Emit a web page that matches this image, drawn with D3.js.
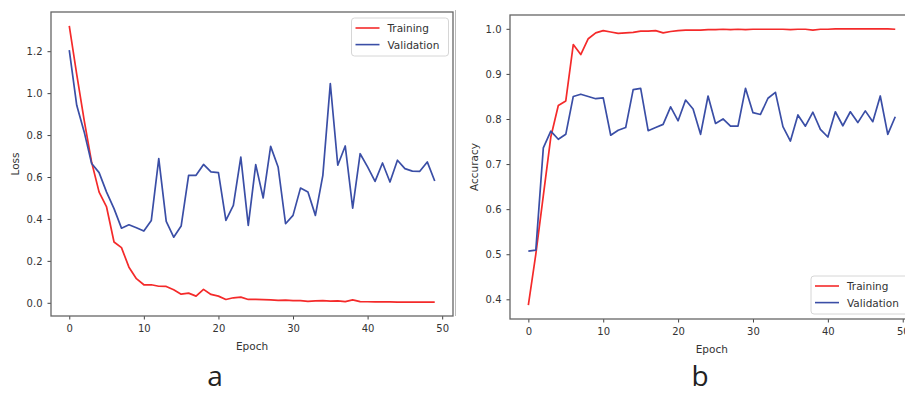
<!DOCTYPE html>
<html lang="en">
<head>
<meta charset="UTF-8" />
<title>Loss and accuracy</title>
<script src="https://d3js.org/d3.v7.min.js"></script>
<style>
    body { margin: 0; background: #fff; }
    .tick text { font-family: "DejaVu Sans", sans-serif; font-size: 10px; fill: #333; }
    .tick line { stroke: #444; }
    .lbl { font-family: "DejaVu Sans", sans-serif; font-size: 10.5px; fill: #333; }
    .panel { font-family: "Open Sans", "Noto Sans", sans-serif; font-size: 28px; fill: #222; }
</style>
</head>
<body>
<script>
    // data
    var epochs = d3.range(0, 50);
    var lossTrain = [1.321, 1.09, 0.87, 0.67, 0.528, 0.457, 0.290, 0.263, 0.170, 0.115,
        0.086, 0.086, 0.079, 0.078, 0.062, 0.041, 0.046, 0.032, 0.064, 0.040,
        0.032, 0.016, 0.024, 0.027, 0.016, 0.016, 0.015, 0.014, 0.012, 0.013,
        0.010, 0.010, 0.007, 0.009, 0.010, 0.008, 0.009, 0.006, 0.014, 0.006,
        0.005, 0.004, 0.004, 0.004, 0.003, 0.003, 0.003, 0.003, 0.003, 0.003];
    var lossVal = [1.205, 0.942, 0.815, 0.664, 0.621, 0.528, 0.449, 0.356, 0.372, 0.358,
        0.342, 0.393, 0.688, 0.388, 0.313, 0.366, 0.608, 0.608, 0.660, 0.624,
        0.621, 0.393, 0.465, 0.695, 0.369, 0.659, 0.500, 0.746, 0.648, 0.377,
        0.417, 0.547, 0.528, 0.417, 0.608, 1.046, 0.656, 0.748, 0.452, 0.711,
        0.648, 0.579, 0.667, 0.576, 0.680, 0.640, 0.628, 0.627, 0.672, 0.581];
    var accTrain = [0.387, 0.50, 0.63, 0.76, 0.830, 0.840, 0.965, 0.943, 0.978, 0.991,
        0.996, 0.993, 0.990, 0.991, 0.992, 0.995, 0.995, 0.996, 0.991, 0.994,
        0.996, 0.997, 0.997, 0.997, 0.998, 0.998, 0.999, 0.998, 0.999, 0.998,
        0.999, 0.999, 0.999, 0.999, 0.999, 0.998, 0.999, 0.999, 0.997, 0.999,
        0.999, 1.000, 1.000, 1.000, 1.000, 1.000, 1.000, 1.000, 1.000, 0.999];
    var accVal = [0.507, 0.509, 0.736, 0.773, 0.755, 0.766, 0.850, 0.855, 0.850, 0.845,
        0.847, 0.764, 0.775, 0.781, 0.865, 0.868, 0.774, 0.781, 0.788, 0.827,
        0.796, 0.842, 0.822, 0.766, 0.851, 0.790, 0.800, 0.784, 0.784, 0.868,
        0.814, 0.810, 0.846, 0.859, 0.783, 0.751, 0.809, 0.784, 0.815, 0.777,
        0.760, 0.816, 0.785, 0.816, 0.792, 0.818, 0.794, 0.851, 0.766, 0.805];
    var xTicks = [0, 10, 20, 30, 40, 50];
    var lossTicks = [0.0, 0.2, 0.4, 0.6, 0.8, 1.0, 1.2];
    var accTicks = [0.4, 0.5, 0.6, 0.7, 0.8, 0.9, 1.0];
    var seriesNames = ["Training", "Validation"];
    var colors = ["#f42a2a", "#3a4ea6"];

    var W = 905, H = 394;
    var svg = d3.select("body").append("svg")
        .attr("width", W).attr("height", H);

    // matplotlib style 5% margins
    function padded(lo, hi) {
        var m = (hi - lo) * 0.05;
        return [lo - m, hi + m];
    }

    function drawPanel(box, series, yTicks, yLabel, legendPos, letter) {
        var g = svg.append("g");
        var xScale = d3.scaleLinear()
            .domain(padded(0, epochs.length - 1))
            .range([box.left, box.right]);
        var all = series[0].concat(series[1]);
        var yScale = d3.scaleLinear()
            .domain(padded(d3.min(all), d3.max(all)))
            .range([box.bottom, box.top]);

        g.append("g")
            .attr("transform", "translate(0," + box.bottom + ")")
            .call(d3.axisBottom(xScale).tickValues(xTicks).tickFormat(d3.format("d"))
                .tickSize(3.5).tickPadding(5.5))
            .call(function(a) { a.select(".domain").remove(); });
        g.append("g")
            .attr("transform", "translate(" + box.left + ",0)")
            .call(d3.axisLeft(yScale).tickValues(yTicks).tickFormat(d3.format(".1f"))
                .tickSize(3.5).tickPadding(5))
            .call(function(a) { a.select(".domain").remove(); });

        var line = d3.line()
            .x(function(d, i) { return xScale(epochs[i]); })
            .y(function(d) { return yScale(d); });
        series.forEach(function(s, k) {
            g.append("path")
                .attr("d", line(s))
                .attr("fill", "none")
                .attr("stroke", colors[k])
                .attr("stroke-width", 1.7)
                .attr("stroke-linejoin", "round");
        });

        g.append("rect")
            .attr("x", box.left).attr("y", box.top)
            .attr("width", box.right - box.left)
            .attr("height", box.bottom - box.top)
            .attr("fill", "none")
            .attr("stroke", "#666")
            .attr("stroke-width", 1.3);

        // axis labels
        g.append("text").attr("class", "lbl")
            .attr("x", (box.left + box.right) / 2)
            .attr("y", box.bottom + 34)
            .attr("text-anchor", "middle")
            .text("Epoch");
        g.append("text").attr("class", "lbl")
            .attr("transform", "translate(" + (box.left - 32) + "," + ((box.top + box.bottom) / 2) + ") rotate(-90)")
            .attr("text-anchor", "middle")
            .text(yLabel);

        // legend
        var lg = g.append("g").attr("transform", "translate(" + legendPos[0] + "," + legendPos[1] + ")");
        lg.append("rect")
            .attr("width", 97).attr("height", 38)
            .attr("rx", 3)
            .attr("fill", "#fff")
            .attr("fill-opacity", 0.85)
            .attr("stroke", "#d6d6d6");
        seriesNames.forEach(function(n, k) {
            var yy = 10 + k * 16.6;
            lg.append("line")
                .attr("x1", 4).attr("x2", 28)
                .attr("y1", yy).attr("y2", yy)
                .attr("stroke", colors[k])
                .attr("stroke-width", 1.6);
            lg.append("text").attr("class", "lbl")
                .attr("x", 36).attr("y", yy + 4)
                .text(n);
        });

        svg.append("text").attr("class", "panel")
            .attr("x", letter[1]).attr("y", letter[2])
            .attr("text-anchor", "middle")
            .text(letter[0]);
    }

    drawPanel({left: 51, right: 453, top: 12, bottom: 316}, [lossTrain, lossVal],
        lossTicks, "Loss", [351.5, 18], ["a", 215, 386]);
    drawPanel({left: 510, right: 913.6, top: 15, bottom: 319}, [accTrain, accVal],
        accTicks, "Accuracy", [811, 276], ["b", 700, 386]);

    // seam between the two pictures
    svg.append("line")
        .attr("x1", 455.5).attr("x2", 455.5)
        .attr("y1", 10).attr("y2", 316)
        .attr("stroke", "#bbb").attr("stroke-width", 1);
</script>
</body>
</html>
